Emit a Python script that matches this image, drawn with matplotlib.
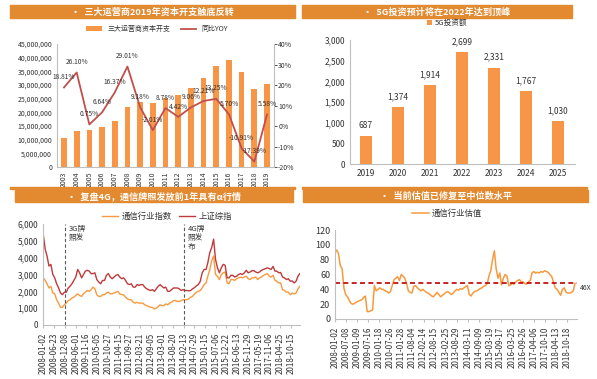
import matplotlib
matplotlib.use("Agg")
import matplotlib.pyplot as plt
import matplotlib.ticker as mticker
from matplotlib.patches import Rectangle
import pandas as pd

plt.rcParams['font.family'] = ['Noto Sans CJK SC', 'DejaVu Sans']
plt.rcParams['axes.unicode_minus'] = False

# --- donnees ---
annees_capex = ['2003', '2004', '2005', '2006', '2007', '2008', '2009', '2010', '2011',
                '2012', '2013', '2014', '2015', '2016', '2017', '2018', '2019']
capex_m = [10.7, 13.3, 13.4, 14.5, 16.9, 21.8, 23.9, 23.3, 25.3, 26.5, 29.0, 32.6,
           36.8, 39.0, 34.6, 28.7, 30.4]
yoy = [18.81, 26.10, 0.75, 6.64, 16.37, 29.01, 9.18, -2.01, 8.78, 4.42, 9.06, 12.21,
       13.25, 5.70, -10.91, -17.39, 5.58]

annees_5g = ['2019', '2020', '2021', '2022', '2023', '2024', '2025']
invest_5g = [687, 1374, 1914, 2699, 2331, 1767, 1030]

mois = pd.date_range('2008-01-01', '2019-03-01', freq='MS')
sh_index = [5400, 4500, 4100, 3500, 3600, 3000, 2800, 2450, 2200, 1900, 1800, 1950,
            1950, 2200, 2300, 2450, 2650, 2850, 3300, 3100, 2800, 3000, 3200, 3250,
            3200, 3050, 3050, 3100, 2700, 2550, 2450, 2650, 2650, 2950, 3050, 2850,
            2750, 2850, 2950, 3000, 2850, 2750, 2800, 2650, 2450, 2400, 2450, 2250,
            2250, 2400, 2350, 2400, 2400, 2250, 2150, 2100, 2050, 2100, 2000, 2150,
            2300, 2400, 2300, 2200, 2250, 2000, 2000, 2100, 2200, 2200, 2200, 2150,
            2050, 2100, 2050, 2050, 2030, 2050, 2150, 2220, 2330, 2400, 2600, 3100,
            3300, 3300, 3700, 4300, 4600, 5100, 3900, 3400, 3100, 3400, 3600, 3550,
            2800, 2800, 2950, 2950, 2850, 2900, 3000, 3050, 3000, 3100, 3250, 3100,
            3150, 3230, 3230, 3150, 3100, 3150, 3250, 3300, 3350, 3390, 3350, 3300,
            3480, 3200, 3200, 3100, 3120, 2850, 2800, 2700, 2750, 2600, 2620, 2500,
            2600, 2900, 3050]
tele_index = [2800, 2650, 2450, 2200, 2300, 1900, 1850, 1500, 1300, 1050, 1050, 1200,
              1300, 1450, 1500, 1600, 1650, 1750, 1850, 1750, 1700, 1850, 1950, 2050,
              2000, 2100, 2250, 2150, 1800, 1700, 1700, 1800, 1800, 1900, 1950, 1850,
              1850, 1900, 1950, 2000, 1850, 1800, 1800, 1650, 1550, 1500, 1500, 1350,
              1300, 1350, 1300, 1300, 1300, 1200, 1150, 1100, 1050, 1050, 950, 1000,
              1100, 1200, 1150, 1150, 1250, 1200, 1300, 1350, 1450, 1450, 1400, 1400,
              1450, 1500, 1500, 1500, 1550, 1650, 1700, 1850, 1950, 2000, 2050, 2200,
              2400, 2500, 2900, 3300, 3800, 4100, 3000, 2900, 2700, 3000, 3100, 3150,
              2500, 2450, 2700, 2700, 2650, 2750, 2800, 2850, 2800, 2850, 2900, 2750,
              2700, 2800, 2800, 2850, 2700, 2800, 2850, 2950, 3000, 3050, 2900, 2850,
              2950, 2650, 2600, 2500, 2500, 2100, 2050, 1950, 1950, 1800, 1900, 1850,
              1900, 2150, 2300]
valo = [90, 93, 88, 72, 68, 42, 33, 30, 25, 21, 20, 21,
        23, 24, 25, 26, 29, 31, 10, 10, 11, 12, 45, 38,
        40, 42, 40, 40, 38, 37, 35, 37, 45, 53, 55, 57,
        52, 60, 58, 55, 48, 38, 36, 35, 44, 45, 42, 40,
        38, 40, 38, 36, 35, 33, 31, 30, 33, 36, 33, 30,
        32, 34, 36, 37, 35, 33, 35, 38, 40, 39, 41, 40,
        42, 44, 45, 33, 31, 35, 37, 38, 39, 41, 42, 44,
        45, 48, 58, 65, 80, 92, 68, 55, 62, 46, 55, 60,
        58, 45, 46, 48, 47, 50, 52, 53, 50, 50, 48, 47,
        50, 52, 62, 64, 62, 63, 62, 64, 63, 65, 64, 63,
        60, 57, 50, 42, 40, 36, 32, 40, 42, 36, 35, 35,
        36, 38, 48]
valo_mediane = 48

ticks_gauche = ['2008-01-02', '2008-06-23', '2008-12-08', '2009-06-01', '2009-11-16',
                '2010-05-05', '2010-10-27', '2011-04-15', '2011-09-27', '2012-03-21',
                '2012-09-05', '2013-03-01', '2013-08-20', '2014-02-13', '2014-07-29',
                '2015-01-15', '2015-07-06', '2015-12-22', '2016-06-13', '2016-11-29',
                '2017-05-19', '2017-11-06', '2018-04-25', '2018-10-15']
ticks_droite = ['2008-01-02', '2008-07-08', '2009-01-09', '2009-07-16', '2010-01-18',
                '2010-07-26', '2011-01-28', '2011-08-04', '2012-02-14', '2012-08-15',
                '2013-02-25', '2013-08-29', '2014-03-11', '2014-09-09', '2015-03-19',
                '2015-09-17', '2016-03-25', '2016-09-26', '2017-04-06', '2017-10-10',
                '2018-04-13', '2018-10-18']

ORANGE = '#F79646'
ROUGE = '#C0504D'
BANDEAU = '#E3892F'
GRIS = '#BFBFBF'
TEXTE = '#333333'

W, H = 597, 379
fig = plt.figure(figsize=(W / 100, H / 100), dpi=100)


def rect(g, h, d, b):
    return [g / W, 1 - b / H, (d - g) / W, (b - h) / H]


def bandeau(g, h, d, b, titre):
    fig.patches.append(Rectangle((g / W, 1 - b / H), (d - g) / W, (b - h) / H,
                                 transform=fig.transFigure, color=BANDEAU, zorder=0))
    fig.text((g + d) / 2 / W, 1 - (h + b) / 2 / H, '•  ' + titre, color='white',
             fontsize=6.6, fontweight='bold', ha='center', va='center')


def style_axes(ax):
    for s in ['top', 'right']:
        ax.spines[s].set_visible(False)
    for s in ['left', 'bottom']:
        ax.spines[s].set_color(GRIS)
        ax.spines[s].set_linewidth(0.8)
    ax.tick_params(colors=TEXTE, length=0)


bandeau(10, 5, 295, 18, '三大运营商2019年资本开支触底反转')
bandeau(302, 5, 572, 18, '5G投资预计将在2022年达到顶峰')
bandeau(15, 190, 293, 202, '复盘4G，通信牌照发放前1年具有α行情')
bandeau(303, 190, 588, 202, '当前估值已修复至中位数水平')
fig.patches.append(Rectangle((10 / W, 1 - 189 / H), 285 / W, 2 / H,
                             transform=fig.transFigure, color=BANDEAU))
fig.patches.append(Rectangle((302 / W, 1 - 189 / H), 285 / W, 2 / H,
                             transform=fig.transFigure, color=BANDEAU))

# --- haut gauche : capex + yoy ---
ax1 = fig.add_axes(rect(57, 44, 274, 167))
x1 = range(len(annees_capex))
barres = ax1.bar(x1, [v * 1e6 for v in capex_m], width=0.45, color=ORANGE,
                 label='三大运营商资本开支')
ax1.set_ylim(0, 45e6)
ax1.set_yticks(range(0, 45000001, 5000000))
ax1.yaxis.set_major_formatter(mticker.FuncFormatter(lambda v, p: f'{v:,.0f}'))
ax1.set_xlim(-0.55, len(annees_capex) - 0.45)
ax1.set_xticks(list(x1))
ax1.set_xticklabels(annees_capex, rotation=90, fontsize=5)
ax1.tick_params(axis='y', labelsize=5)
style_axes(ax1)

ax1b = ax1.twinx()
ligne, = ax1b.plot(list(x1), yoy, color=ROUGE, lw=1.3, label='同比YOY')
ax1b.set_ylim(-20, 40)
ax1b.set_yticks(range(-20, 41, 10))
ax1b.yaxis.set_major_formatter(mticker.FuncFormatter(lambda v, p: f'{v:.0f}%'))
for s in ['top', 'left', 'bottom']:
    ax1b.spines[s].set_visible(False)
ax1b.spines['right'].set_color(GRIS)
ax1b.spines['right'].set_linewidth(0.8)
ax1b.tick_params(colors=TEXTE, labelsize=5, length=2, width=0.6, pad=1)
for i, v in enumerate(yoy):
    ax1b.annotate(f'{v:.2f}%', (i, v), xytext=(0, 7.5), textcoords='offset points',
                  ha='center', va='center', fontsize=4.8, color=TEXTE)
fig.legend([barres, ligne], ['三大运营商资本开支', '同比YOY'], loc='center',
           bbox_to_anchor=(157 / W, 1 - 29 / H), ncol=2, frameon=False, fontsize=5,
           handlelength=2.2, columnspacing=1.5, labelcolor=TEXTE)

# --- haut droite : 5G ---
ax2 = fig.add_axes(rect(350, 40, 575, 164))
x2 = range(len(annees_5g))
b5g = ax2.bar(x2, invest_5g, width=0.4, color=ORANGE, label='5G投资额')
ax2.set_ylim(0, 3000)
ax2.set_yticks(range(0, 3001, 500))
ax2.yaxis.set_major_formatter(mticker.FuncFormatter(lambda v, p: f'{v:,.0f}'))
ax2.set_xlim(-0.5, len(annees_5g) - 0.47)
ax2.set_xticks(list(x2))
ax2.set_xticklabels(annees_5g)
style_axes(ax2)
ax2.tick_params(labelsize=6)
for i, v in enumerate(invest_5g):
    ax2.annotate(f'{v:,}', (i, v), xytext=(0, 7.5), textcoords='offset points',
                 ha='center', va='center', fontsize=6, color=TEXTE)
fig.legend([b5g], ['5G投资额'], loc='center', bbox_to_anchor=(447 / W, 1 - 23 / H),
           frameon=False, fontsize=5.5, handlelength=0.7, handleheight=0.7,
           handletextpad=0.4, labelcolor=TEXTE)

# --- bas gauche : indices ---
ax3 = fig.add_axes(rect(43, 224, 300, 325))
l_tele, = ax3.plot(mois, tele_index, color='#F79A3E', lw=1.0)
l_sh, = ax3.plot(mois, sh_index, color='#C0393B', lw=1.0)
ax3.set_ylim(0, 6000)
ax3.set_yticks(range(0, 6001, 1000))
ax3.yaxis.set_major_formatter(mticker.FuncFormatter(lambda v, p: f'{v:,.0f}'))
ax3.set_xlim(pd.Timestamp('2007-12-28'), pd.Timestamp('2019-03-05'))
ax3.set_xticks(pd.to_datetime(ticks_gauche))
ax3.set_xticklabels(ticks_gauche, rotation=90)
style_axes(ax3)
ax3.tick_params(labelsize=6)
ax3.tick_params(axis='x', length=2, color=GRIS, labelsize=5.8)
for d, txt in [('2008-12-08', '3G牌\n照发'), ('2014-02-13', '4G牌\n照发\n布')]:
    ax3.axvline(pd.Timestamp(d), color='#595959', ls='--', lw=0.8, dashes=(3, 2))
    ax3.annotate(txt, (pd.Timestamp(d), 5950), xytext=(3, 0), textcoords='offset points',
                 ha='left', va='top', fontsize=5.5, color=TEXTE, linespacing=1.15)
fig.legend([l_tele, l_sh], ['通信行业指数', '上证综指'], loc='center',
           bbox_to_anchor=(167 / W, 1 - 216 / H), ncol=2, frameon=False, fontsize=6,
           handlelength=2.0, columnspacing=0.8, handletextpad=0.4, labelcolor=TEXTE)

# --- bas droite : valorisation ---
ax4 = fig.add_axes(rect(335, 230, 577, 319))
l_valo, = ax4.plot(mois, valo, color='#F79A3E', lw=1.1)
ax4.axhline(valo_mediane, color='#C00000', ls='--', lw=1.2, dashes=(3, 2))
ax4.set_ylim(0, 120)
ax4.set_yticks(range(0, 121, 20))
ax4.set_xlim(pd.Timestamp('2008-01-02'), pd.Timestamp('2019-04-05'))
ax4.set_xticks(pd.to_datetime(ticks_droite))
ax4.set_xticklabels(ticks_droite, rotation=90)
style_axes(ax4)
ax4.tick_params(labelsize=6.5)
ax4.tick_params(axis='x', length=2, color=GRIS, labelsize=5.8)
ax4.annotate('46X', (1.0, valo_mediane), xycoords=('axes fraction', 'data'),
             xytext=(2, -3), textcoords='offset points', ha='left', va='center',
             fontsize=5, color=TEXTE)
fig.legend([l_valo], ['通信行业估值'], loc='center', bbox_to_anchor=(447 / W, 1 - 213 / H),
           frameon=False, fontsize=6, handlelength=2.0, handletextpad=0.4,
           labelcolor=TEXTE)

fig.savefig('out.png', dpi=100)
